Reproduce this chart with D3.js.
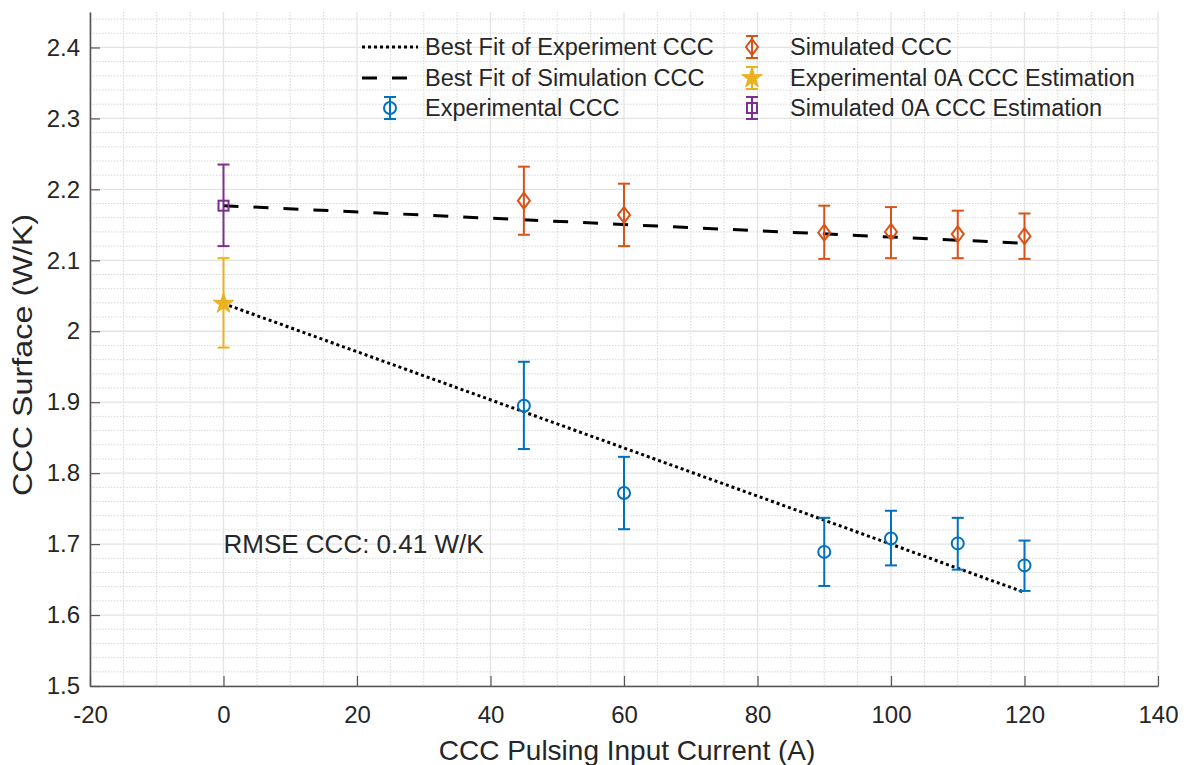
<!DOCTYPE html>
<html>
<head>
<meta charset="utf-8">
<script src="https://cdn.jsdelivr.net/npm/d3@7"></script>
<style>
  body { margin: 0; background: #fff; }
  text { font-family: "Liberation Sans", Arial, sans-serif; fill: #262626; }
</style>
</head>
<body>
<div id="chart"></div>
<script>
// data
const exp_x = [45, 60, 90, 100, 110, 120];
const exp_y = [1.895, 1.772, 1.689, 1.708, 1.701, 1.670];
const exp_lo = [1.834, 1.721, 1.641, 1.670, 1.664, 1.634];
const exp_hi = [1.957, 1.823, 1.737, 1.747, 1.737, 1.705];

const sim_x = [45, 60, 90, 100, 110, 120];
const sim_y = [2.184, 2.164, 2.139, 2.140, 2.137, 2.134];
const sim_lo = [2.136, 2.120, 2.102, 2.103, 2.103, 2.102];
const sim_hi = [2.232, 2.208, 2.177, 2.175, 2.170, 2.166];

const exp0 = [0, 2.039, 1.977, 2.103];   // x, y, lo, hi
const sim0 = [0, 2.177, 2.120, 2.235];

const exp_fit = [[0, 2.039], [120, 1.632]];
const sim_fit = [[0, 2.177], [120, 2.124]];

const x_ticks = [-20, 0, 20, 40, 60, 80, 100, 120, 140];
const y_ticks = [1.5, 1.6, 1.7, 1.8, 1.9, 2, 2.1, 2.2, 2.3, 2.4];

const legend_items = [
    'Best Fit of Experiment CCC', 'Best Fit of Simulation CCC', 'Experimental CCC',
    'Simulated CCC', 'Experimental 0A CCC Estimation', 'Simulated 0A CCC Estimation'
];

const chart_width = 1189;
const chart_height = 765;
const p_left = 90, p_right = 1158, p_top = 12, p_bottom = 686;

const c_blue = '#0072BD', c_orange = '#D95319', c_yellow = '#EDB120', c_purple = '#7E2F8E';

const svg = d3.select('#chart')
    .append('svg')
    .attr('width', chart_width)
    .attr('height', chart_height);

const x_scale = d3.scaleLinear().domain([-20, 140]).range([p_left, p_right]);
const y_scale = d3.scaleLinear().domain([1.5, 2.45]).range([p_bottom, p_top]);

// minor grid
svg.append('g')
    .selectAll('line')
    .data(d3.range(-20, 141, 5).filter(v => v % 20 !== 0))
    .enter().append('line')
    .attr('x1', d => x_scale(d)).attr('x2', d => x_scale(d))
    .attr('y1', p_top).attr('y2', p_bottom)
    .attr('stroke', '#d6d6d6').attr('stroke-width', 1).attr('stroke-dasharray', '1.5,1.5');
svg.append('g')
    .selectAll('line')
    .data(d3.range(0, 48).map(i => 1.5 + i * 0.02).filter(v => Math.abs(v * 10 - Math.round(v * 10)) > 1e-6))
    .enter().append('line')
    .attr('x1', p_left).attr('x2', p_right)
    .attr('y1', d => y_scale(d)).attr('y2', d => y_scale(d))
    .attr('stroke', '#d6d6d6').attr('stroke-width', 1).attr('stroke-dasharray', '1.5,1.5');

// major grid
svg.append('g')
    .selectAll('line')
    .data(x_ticks)
    .enter().append('line')
    .attr('x1', d => x_scale(d)).attr('x2', d => x_scale(d))
    .attr('y1', p_top).attr('y2', p_bottom)
    .attr('stroke', '#e3e3e3').attr('stroke-width', 1.3);
svg.append('g')
    .selectAll('line')
    .data(y_ticks)
    .enter().append('line')
    .attr('x1', p_left).attr('x2', p_right)
    .attr('y1', d => y_scale(d)).attr('y2', d => y_scale(d))
    .attr('stroke', '#e3e3e3').attr('stroke-width', 1.3);

// Axes (ticks inward)
const x_axis = d3.axisBottom(x_scale).tickValues(x_ticks).tickSizeInner(-10).tickSizeOuter(0).tickPadding(20)
    .tickFormat(d => String(d));
const gx = svg.append('g')
    .attr('transform', `translate(0, ${p_bottom})`)
    .call(x_axis);
const y_axis = d3.axisLeft(y_scale).tickValues(y_ticks).tickSizeInner(-10).tickSizeOuter(0).tickPadding(10)
    .tickFormat(d => d === 2 ? '2' : d3.format('.1f')(d));
const gy = svg.append('g')
    .attr('transform', `translate(${p_left}, 0)`)
    .call(y_axis);
[gx, gy].forEach(g => {
    g.select('.domain').attr('stroke', '#555').attr('stroke-width', 1.6);
    g.selectAll('.tick line').attr('stroke', '#555').attr('stroke-width', 1.2);
    g.selectAll('.tick text').attr('font-size', 24).attr('fill', '#262626')
        .style('font-family', '"Liberation Sans", Arial, sans-serif');
});

// axis labels
svg.append('text')
    .attr('x', 627).attr('y', 760)
    .attr('text-anchor', 'middle').attr('font-size', 28)
    .text('CCC Pulsing Input Current (A)');
svg.append('text')
    .attr('transform', `translate(32, 355) rotate(-90)`)
    .attr('text-anchor', 'middle').attr('font-size', 27)
    .attr('textLength', 282).attr('lengthAdjust', 'spacingAndGlyphs')
    .text('CCC Surface (W/K)');

// Fit lines
const line = d3.line().x(d => x_scale(d[0])).y(d => y_scale(d[1]));
svg.append('path').datum(exp_fit).attr('d', line)
    .attr('fill', 'none').attr('stroke', '#000').attr('stroke-width', 3).attr('stroke-dasharray', '3,3');
svg.append('path').datum(sim_fit).attr('d', line)
    .attr('fill', 'none').attr('stroke', '#000').attr('stroke-width', 3).attr('stroke-dasharray', '15,15');

// marker shapes
const diamond = 'M0,-8L6,0L0,8L-6,0Z';
const star = d3.symbol().type(d3.symbolStar).size(130)();

function errorbar(g, x, y, lo, hi, color) {
    g.append('line').attr('x1', x).attr('x2', x).attr('y1', lo).attr('y2', hi)
        .attr('stroke', color).attr('stroke-width', 2);
    [lo, hi].forEach(v => g.append('line')
        .attr('x1', x - 6).attr('x2', x + 6).attr('y1', v).attr('y2', v)
        .attr('stroke', color).attr('stroke-width', 2));
}

function marker(g, kind, x, y, color) {
    if (kind === 'circle') {
        g.append('circle').attr('cx', x).attr('cy', y).attr('r', 6)
            .attr('fill', 'none').attr('stroke', color).attr('stroke-width', 2);
    } else if (kind === 'diamond') {
        g.append('path').attr('d', diamond).attr('transform', `translate(${x},${y})`)
            .attr('fill', 'none').attr('stroke', color).attr('stroke-width', 2);
    } else if (kind === 'square') {
        g.append('rect').attr('x', x - 5).attr('y', y - 5).attr('width', 10).attr('height', 10)
            .attr('fill', 'none').attr('stroke', color).attr('stroke-width', 2);
    } else {
        g.append('path').attr('d', star).attr('transform', `translate(${x},${y})`)
            .attr('fill', color).attr('stroke', color).attr('stroke-width', 1);
    }
}

const series = [
    {xs: exp_x, ys: exp_y, lo: exp_lo, hi: exp_hi, kind: 'circle', color: c_blue},
    {xs: sim_x, ys: sim_y, lo: sim_lo, hi: sim_hi, kind: 'diamond', color: c_orange},
    {xs: [exp0[0]], ys: [exp0[1]], lo: [exp0[2]], hi: [exp0[3]], kind: 'star', color: c_yellow},
    {xs: [sim0[0]], ys: [sim0[1]], lo: [sim0[2]], hi: [sim0[3]], kind: 'square', color: c_purple},
];

series.forEach(s => {
    const g = svg.append('g');
    s.xs.forEach((xv, i) => {
        errorbar(g, x_scale(xv), y_scale(s.ys[i]), y_scale(s.lo[i]), y_scale(s.hi[i]), s.color);
        marker(g, s.kind, x_scale(xv), y_scale(s.ys[i]), s.color);
    });
});

// annotation
svg.append('text')
    .attr('x', x_scale(0)).attr('y', y_scale(1.7))
    .attr('dominant-baseline', 'central').attr('font-size', 26)
    .text('RMSE CCC: 0.41 W/K');

// Legend
const leg = svg.append('g');
const rows = [47, 78, 108];
const col_icon = [390, 752];
const col_text = [425, 790];
const leg_icons = ['dot', 'dash', 'circle', 'diamond', 'star', 'square'];
const leg_colors = ['#000', '#000', c_blue, c_orange, c_yellow, c_purple];
legend_items.forEach((name, i) => {
    const col = Math.floor(i / 3), row = i % 3;
    const cy = rows[row], cx = col_icon[col];
    if (leg_icons[i] === 'dot' || leg_icons[i] === 'dash') {
        leg.append('line').attr('x1', 362).attr('x2', 418).attr('y1', cy).attr('y2', cy)
            .attr('stroke', '#000').attr('stroke-width', 3)
            .attr('stroke-dasharray', leg_icons[i] === 'dot' ? '3,3' : '15,15');
    } else {
        errorbar(leg, cx, cy, cy + 11, cy - 11, leg_colors[i]);
        marker(leg, leg_icons[i], cx, cy, leg_colors[i]);
    }
    leg.append('text').attr('x', col_text[col]).attr('y', cy)
        .attr('dominant-baseline', 'central').attr('font-size', 23.5)
        .text(name);
});
</script>
</body>
</html>
